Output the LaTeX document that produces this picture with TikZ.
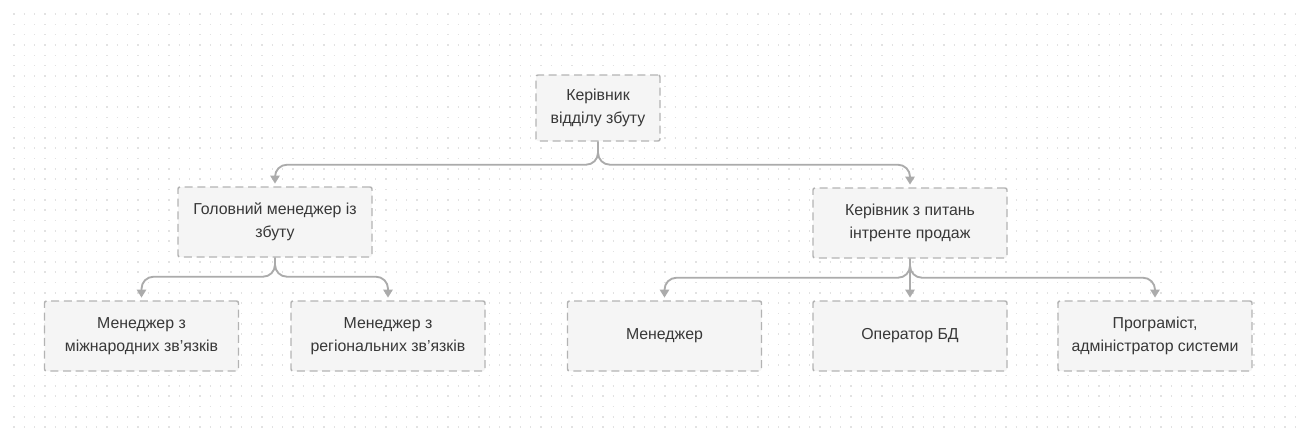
\documentclass[tikz,border=0pt]{standalone}
\usepackage{fontspec}
\setmainfont{Liberation Sans}
\usetikzlibrary{arrows.meta}

\definecolor{boxfill}{HTML}{F5F5F5}
\definecolor{boxline}{HTML}{B3B3B3}
\definecolor{linkgray}{HTML}{ABABAB}
\definecolor{dotgray}{HTML}{E2E2E2}
\definecolor{textgray}{HTML}{383838}

\begin{document}
\begin{tikzpicture}[x=0.75pt,y=-0.75pt,
   post/.style={draw=boxline,fill=boxfill,dash pattern=on 6pt off 3.5pt,
      line width=1.1pt,rounded corners=1.5pt,minimum width=145.5pt,
      minimum height=52.5pt,align=center,text=textgray,
      font=\fontsize{11.9}{17.5}\selectfont},
   link/.style={draw=linkgray,line width=1.4pt,rounded corners=9pt,
      -{Triangle[length=6pt,width=7pt]},shorten >=2pt}]
   \useasboundingbox (0,0) rectangle (1299,440);
   % dotted background grid
   \foreach \r in {0,...,40}
      \draw[dotgray,line width=1.2pt,dash pattern=on 1.2pt off 6.55pt]
         (13.2,14+\r*10.33) -- (1299,14+\r*10.33);

   % head of the department
   \node[post,minimum width=93pt,minimum height=49.5pt] (head) at (598,108)
      {Керівник\\відділу збуту};
   % second level
   \node[post] (chief) at (275,222) {Головний менеджер із\\збуту};
   \node[post] (web) at (910,223) {Керівник з питань\\інтренте продаж};
   % bottom level
   \node[post] (intl) at (141.5,336) {Менеджер з\\міжнародних зв’язків};
   \node[post] (region) at (388,336) {Менеджер з\\регіональних зв’язків};
   \node[post] (mgr) at (664.5,336) {Менеджер};
   \node[post] (dbop) at (910,336) {Оператор БД};
   \node[post] (prog) at (1155,336) {Програміст,\\адміністратор системи};

   \draw[link] (head.south) -- ++(0,23) -| (chief.north);
   \draw[link] (head.south) -- ++(0,23) -| (web.north);
   \draw[link] (chief.south) -- ++(0,19) -| (intl.north);
   \draw[link] (chief.south) -- ++(0,19) -| (region.north);
   \draw[link] (web.south) -- ++(0,19) -| (mgr.north);
   \draw[link] (web.south) -- (dbop.north);
   \draw[link] (web.south) -- ++(0,19) -| (prog.north);
\end{tikzpicture}
\end{document}
